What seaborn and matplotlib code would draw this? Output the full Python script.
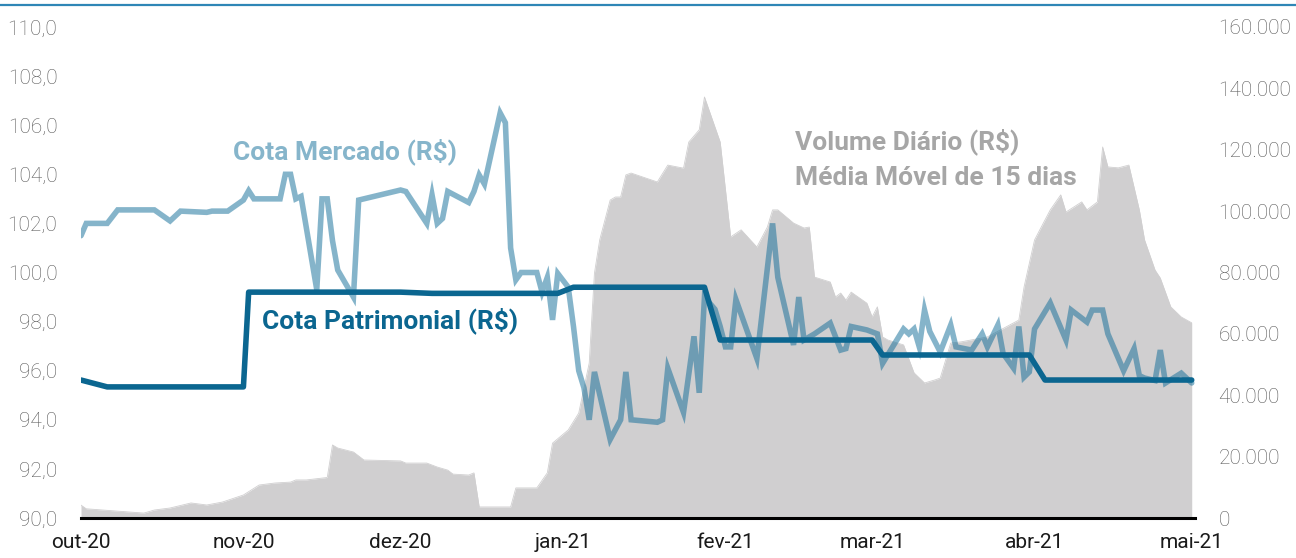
import matplotlib
matplotlib.use("Agg")
import matplotlib.pyplot as plt
from matplotlib.lines import Line2D
import seaborn as sns
import pandas as pd
import numpy as np

# ---------------- data ----------------
mercado_dates = [
    "2020-10-01", "2020-10-02", "2020-10-06", "2020-10-08", "2020-10-15", "2020-10-18",
    "2020-10-20", "2020-10-25", "2020-10-26", "2020-10-29", "2020-11-01", "2020-11-02",
    "2020-11-03", "2020-11-08", "2020-11-09", "2020-11-10", "2020-11-11", "2020-11-12",
    "2020-11-15", "2020-11-16", "2020-11-17", "2020-11-18", "2020-11-19", "2020-11-22",
    "2020-11-23", "2020-12-01", "2020-12-02", "2020-12-06", "2020-12-07", "2020-12-08",
    "2020-12-09", "2020-12-10", "2020-12-14", "2020-12-15", "2020-12-16", "2020-12-17",
    "2020-12-20", "2020-12-21", "2020-12-22", "2020-12-23", "2020-12-24", "2020-12-27",
    "2020-12-28", "2020-12-29", "2020-12-30", "2020-12-31", "2021-01-02", "2021-01-03",
    "2021-01-04", "2021-01-05", "2021-01-06", "2021-01-07", "2021-01-10", "2021-01-12",
    "2021-01-13", "2021-01-14", "2021-01-19", "2021-01-20", "2021-01-21", "2021-01-24",
    "2021-01-26", "2021-01-27", "2021-01-28", "2021-01-30", "2021-01-31", "2021-02-01",
    "2021-02-02", "2021-02-03", "2021-02-07", "2021-02-10", "2021-02-11", "2021-02-14",
    "2021-02-15", "2021-02-16", "2021-02-18", "2021-02-21", "2021-02-23", "2021-02-24",
    "2021-02-25", "2021-02-28", "2021-03-02", "2021-03-03", "2021-03-07", "2021-03-08",
    "2021-03-09", "2021-03-10", "2021-03-11", "2021-03-12", "2021-03-14", "2021-03-16",
    "2021-03-17", "2021-03-20", "2021-03-22", "2021-03-23", "2021-03-25", "2021-03-26",
    "2021-03-28", "2021-03-29", "2021-03-30", "2021-03-31", "2021-04-01", "2021-04-04",
    "2021-04-07", "2021-04-08", "2021-04-11", "2021-04-12", "2021-04-14", "2021-04-15",
    "2021-04-18", "2021-04-20", "2021-04-21", "2021-04-22", "2021-04-24", "2021-04-25",
    "2021-04-26", "2021-04-29", "2021-05-01",
]
mercado_values = [
    101.5, 102.0, 102.0, 102.55, 102.55, 102.1,
    102.5, 102.45, 102.5, 102.5, 102.95, 103.33,
    103.0, 103.0, 104.0, 104.0, 103.0, 103.1,
    99.3, 103.0, 103.0, 101.3, 100.1, 99.0,
    102.95, 103.36, 103.3, 102.0, 103.16, 102.0,
    102.2, 103.3, 102.85, 103.3, 103.97, 103.6,
    106.5, 106.1, 101.0, 99.7, 100.0, 100.0,
    99.2, 99.8, 98.07, 99.96, 99.4, 97.8,
    96.0, 95.3, 94.0, 95.95, 93.2, 94.0,
    95.95, 94.0, 93.9, 94.0, 96.1, 94.3,
    97.4, 95.1, 99.0, 98.5, 97.8, 96.97,
    96.97, 98.9, 96.5, 102.0, 99.8, 97.05,
    99.0, 97.25, 97.5, 97.94, 96.84, 96.9,
    97.8, 97.66, 97.5, 96.3, 97.7, 97.5,
    97.7, 96.97, 98.47, 97.6, 96.76, 97.86,
    96.97, 96.84, 97.5, 96.97, 97.86, 96.7,
    96.1, 97.8, 95.74, 95.95, 97.7, 98.76,
    97.25, 98.47, 97.98, 98.47, 98.47, 97.5,
    96.0, 96.9, 95.8, 95.7, 95.6, 96.84,
    95.5, 95.9, 95.5,
]

patrimonial_dates = [
    "2020-10-01", "2020-10-06", "2020-11-01", "2020-11-02", "2020-12-01", "2020-12-07",
    "2020-12-31", "2021-01-03", "2021-01-28", "2021-01-31", "2021-03-01", "2021-03-03",
    "2021-03-31", "2021-04-03", "2021-05-01",
]
patrimonial_values = [
    95.62, 95.34, 95.34, 99.2, 99.2, 99.15,
    99.15, 99.4, 99.4, 97.25, 97.25, 96.64,
    96.64, 95.62, 95.62,
]

volume_dates = [
    "2020-10-01", "2020-10-02", "2020-10-13", "2020-10-15", "2020-10-18", "2020-10-22",
    "2020-10-25", "2020-10-28", "2020-11-01", "2020-11-04", "2020-11-07", "2020-11-10",
    "2020-11-11", "2020-11-13", "2020-11-16", "2020-11-17", "2020-11-18", "2020-11-19",
    "2020-11-22", "2020-11-24", "2020-12-01", "2020-12-02", "2020-12-06", "2020-12-08",
    "2020-12-10", "2020-12-11", "2020-12-14", "2020-12-15", "2020-12-16", "2020-12-22",
    "2020-12-23", "2020-12-27", "2020-12-29", "2020-12-30", "2021-01-02", "2021-01-04",
    "2021-01-06", "2021-01-07", "2021-01-08", "2021-01-10", "2021-01-11", "2021-01-12",
    "2021-01-13", "2021-01-14", "2021-01-19", "2021-01-21", "2021-01-24", "2021-01-25",
    "2021-01-27", "2021-01-28", "2021-01-31", "2021-02-02", "2021-02-04", "2021-02-07",
    "2021-02-09", "2021-02-10", "2021-02-11", "2021-02-14", "2021-02-16", "2021-02-17",
    "2021-02-18", "2021-02-21", "2021-02-22", "2021-02-23", "2021-02-24", "2021-02-25",
    "2021-02-28", "2021-03-01", "2021-03-02", "2021-03-03", "2021-03-04", "2021-03-07",
    "2021-03-09", "2021-03-11", "2021-03-13", "2021-03-14", "2021-03-16", "2021-03-18",
    "2021-03-23", "2021-03-29", "2021-03-30", "2021-04-01", "2021-04-02", "2021-04-04",
    "2021-04-06", "2021-04-07", "2021-04-10", "2021-04-11", "2021-04-13", "2021-04-14",
    "2021-04-15", "2021-04-17", "2021-04-19", "2021-04-21", "2021-04-22", "2021-04-24",
    "2021-04-25", "2021-04-27", "2021-04-29", "2021-05-01",
]
volume_values = [
    4200, 3000, 1600, 2600, 3260, 4900,
    4240, 5200, 7500, 10750, 11400, 11700,
    12400, 12400, 13000, 13200, 23800, 22800,
    21500, 18900, 18600, 17900, 17900, 16600,
    15600, 14300, 14000, 14700, 3600, 3600,
    9800, 9800, 14700, 24400, 28700, 34200,
    50500, 79800, 90600, 103600, 104600, 104600,
    111800, 112400, 109500, 115000, 114000, 122500,
    126500, 137200, 122500, 91600, 93900, 88300,
    94800, 100400, 100400, 96100, 94500, 94800,
    78500, 76900, 72000, 73300, 71000, 73600,
    70000, 65500, 68800, 59000, 58000, 56400,
    47300, 44000, 45000, 45600, 57000, 57400,
    59000, 64500, 75300, 90600, 93900, 100400,
    105300, 99700, 103000, 100400, 103000, 120900,
    114400, 114100, 115000, 100400, 90600, 80800,
    78200, 68800, 65500, 63600,
]

month_labels = ["out-20", "nov-20", "dez-20", "jan-21", "fev-21", "mar-21", "abr-21", "mai-21"]
left_ticks = [90, 92, 94, 96, 98, 100, 102, 104, 106, 108, 110]
right_ticks = [0, 20000, 40000, 60000, 80000, 100000, 120000, 140000, 160000]

# ---------------- frames ----------------
df_m = pd.DataFrame({"data": pd.to_datetime(mercado_dates), "valor": mercado_values})
df_p = pd.DataFrame({"data": pd.to_datetime(patrimonial_dates), "valor": patrimonial_values})
df_v = pd.DataFrame({"data": pd.to_datetime(volume_dates), "volume": volume_values})

# ---------------- style ----------------
sns.set_style("white")
plt.rcParams["font.family"] = ["Roboto", "DejaVu Sans"]

W, H = 1296, 558
fig = plt.figure(figsize=(W / 100, H / 100), dpi=100)
L, R, T, B = 81, 1195, 27, 518
ax = fig.add_axes([L / W, (H - B) / H, (R - L) / W, (B - T) / H])
ax2 = ax.twinx()

# volume area (right axis)
ax2.fill_between(df_v["data"], 0, df_v["volume"], color="#d0cfd0", linewidth=0, zorder=1)
sns.lineplot(data=df_v, x="data", y="volume", ax=ax2, color="#d0cfd0", linewidth=0.6,
             estimator=None, sort=False, legend=False)

# lines (left axis)
sns.lineplot(data=df_m, x="data", y="valor", ax=ax, color="#0d6b97", alpha=0.5,
             linewidth=4.0, estimator=None, sort=False, legend=False,
             solid_joinstyle="miter")
sns.lineplot(data=df_p, x="data", y="valor", ax=ax, color="#0b6690",
             linewidth=4.0, estimator=None, sort=False, legend=False)

ax.set_zorder(ax2.get_zorder() + 1)
ax.patch.set_visible(False)

# limits & ticks
x0 = pd.Timestamp("2020-10-01")
x1 = pd.Timestamp("2021-05-01") + pd.Timedelta(hours=15)
ax.set_xlim(x0, x1)
ax.set_ylim(90, 110)
ax2.set_ylim(0, 160000)

month_pos = pd.date_range("2020-10-01", "2021-05-01", freq="MS")
ax.set_xticks(month_pos)
ax.set_xticklabels(month_labels)
ax.set_yticks(left_ticks)
ax.set_yticklabels([f"{v:.1f}".replace(".", ",") for v in left_ticks])
ax2.set_yticks(right_ticks)
ax2.set_yticklabels([f"{v:,}".replace(",", ".") for v in right_ticks])

tick_kw = dict(labelsize=15, labelcolor="#595959", length=0)
ax.tick_params(axis="y", pad=17, **tick_kw)
ax.tick_params(axis="x", pad=11, labelsize=15, labelcolor="#1a1a1a", length=0)
ax2.tick_params(axis="y", pad=17, **tick_kw)
for lab in ax.get_yticklabels() + ax2.get_yticklabels():
    lab.set_fontweight("light")
for lab in ax.get_xticklabels():
    lab.set_fontweight("normal")

ax.set_xlabel("")
ax.set_ylabel("")
ax2.set_ylabel("")
ax.grid(False)
ax2.grid(False)
for a in (ax, ax2):
    for s in ("top", "left", "right", "bottom"):
        a.spines[s].set_visible(False)
ax.spines["bottom"].set_visible(True)
ax.spines["bottom"].set_color("black")
ax.spines["bottom"].set_linewidth(2.2)

# annotations
def fx(px):
    return (px - L) / (R - L)

def fy(py):
    return (B - py) / (B - T)

ann_kw = dict(transform=ax.transAxes, ha="left", va="center", fontsize=19, fontweight="bold")
ax.text(fx(233), fy(152), "Cota Mercado (R$)", color="#86b5cb", **ann_kw)
ax.text(fx(262), fy(321), "Cota Patrimonial (R$)", color="#0b6690", **ann_kw)
ax.text(fx(795), fy(142), "Volume Diário (R$)", color="#a6a6a6", **ann_kw)
ax.text(fx(795), fy(178), "Média Móvel de 15 dias", color="#a6a6a6", **ann_kw)

# top decorative rule
fig.add_artist(Line2D([0, 1], [1 - 5 / H, 1 - 5 / H], transform=fig.transFigure,
                      color="#2f86b6", linewidth=1.6))

fig.savefig("out.png", dpi=100, facecolor="white")
